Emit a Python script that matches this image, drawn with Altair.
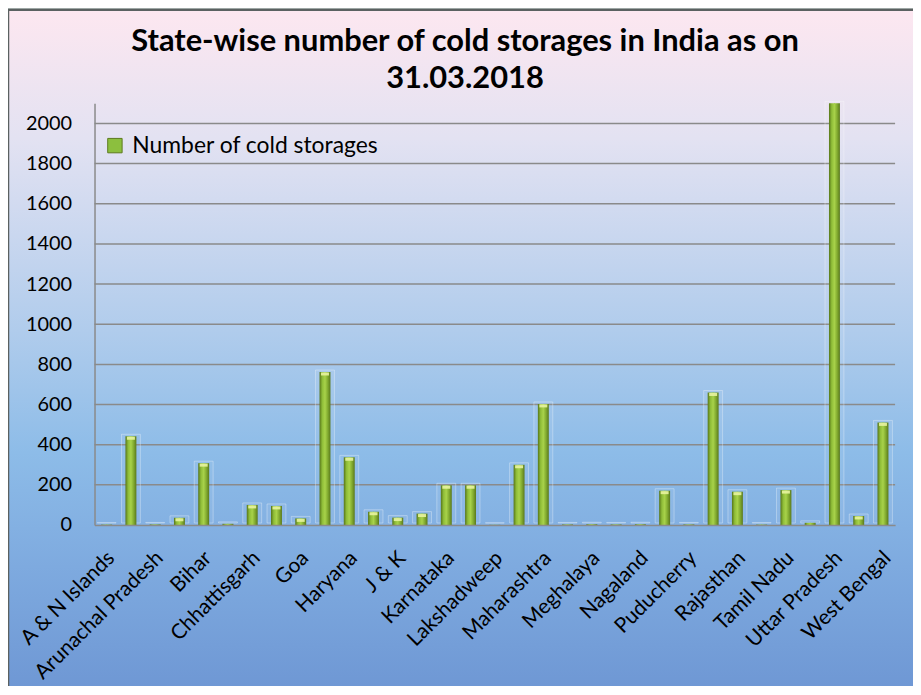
import altair as alt
import pandas as pd

TITLE = ["State-wise number of cold storages in India as on", "31.03.2018"]
SERIES = "Number of cold storages"

states = [
    "A & N Islands", "Andhra Pradesh", "Arunachal Pradesh", "Assam", "Bihar",
    "Chandigarh", "Chhattisgarh", "Delhi", "Goa", "Gujarat", "Haryana",
    "Himachal Pradesh", "J & K", "Jharkhand", "Karnataka", "Kerala",
    "Lakshadweep", "Madhya Pradesh", "Maharashtra", "Manipur", "Meghalaya",
    "Mizoram", "Nagaland", "Odisha", "Puducherry", "Punjab", "Rajasthan",
    "Sikkim", "Tamil Nadu", "Tripura", "Uttar Pradesh", "Uttarakhand",
    "West Bengal",
]
counts = [
    2, 442, 3, 36, 308, 6, 100, 95, 33, 762, 337,
    66, 37, 57, 198, 198, 1, 300, 603, 3, 4,
    3, 4, 171, 3, 660, 166, 2, 174, 11, 2100, 45,
    511,
]
shown_labels = states[::2]
y_ticks = [0, 200, 400, 600, 800, 1000, 1200, 1400, 1600, 1800, 2000]

df = pd.DataFrame({"state": states, "count": counts, "series": [SERIES] * len(states)})
grid_df = pd.DataFrame({"v": y_ticks[1:]})

W, H = 805, 424
FONT = "Lato"

xenc = alt.X("state:N", sort=states,
             scale=alt.Scale(paddingInner=0, paddingOuter=0),
             axis=alt.Axis(values=shown_labels, labelAngle=-45, labelFontSize=21,
                           labelFont=FONT, labelColor="#000000", labelPadding=22,
                           labelOffset=-3,
                           ticks=False, domainColor="#8a8a8a", domainWidth=1.5,
                           title=None, zindex=1, labelOverlap=False))
yscale = alt.Scale(domain=[0, 2100], nice=False)
yenc = alt.Y("count:Q", scale=yscale,
             axis=alt.Axis(values=y_ticks, grid=False, ticks=False, labelFontSize=20,
                           labelFont=FONT, labelColor="#000000", labelPadding=23,
                           format="d",
                           domainColor="#8a8a8a", domainWidth=1.5, title=None, zindex=1))

bg = alt.Chart(alt.Data(values=[{"k": 1}])).mark_rect(
    clip=False,
    stroke="#5b6161", strokeWidth=2.5,
    color=alt.Gradient(
        gradient="linear", x1=0, x2=0, y1=0, y2=1,
        stops=[
            alt.GradientStop(offset=0.0, color="#fde7f0"),
            alt.GradientStop(offset=0.18, color="#e3e2f2"),
            alt.GradientStop(offset=0.45, color="#b0ccec"),
            alt.GradientStop(offset=0.62, color="#8dbce8"),
            alt.GradientStop(offset=0.78, color="#7eaadf"),
            alt.GradientStop(offset=1.0, color="#6a92d1"),
        ],
    ),
).encode(
    x=alt.value(-87), x2=alt.value(W + 60),
    y=alt.value(-94), y2=alt.value(H + 200),
)

grid = alt.Chart(grid_df).mark_rule(color="#8a8a8a", strokeWidth=1.5).encode(
    y=alt.Y("v:Q", scale=yscale)
)

halo = alt.Chart(df).mark_bar(
    size=19, fill="#ffffff", fillOpacity=0.06, stroke="#ffffff", strokeOpacity=0.32,
    strokeWidth=1, yOffset=-2,
).encode(x=xenc, y=yenc)

legend_layer = alt.Chart(df).mark_bar(size=1).encode(
    x=xenc, y=yenc,
    color=alt.Color("series:N", scale=alt.Scale(range=["#8cbf3e"]),
                    legend=alt.Legend(title=None, orient="none", legendX=9, legendY=31,
                                      symbolType="square", symbolSize=210,
                                      symbolStrokeColor="#5d7a1e", symbolStrokeWidth=1,
                                      labelFontSize=23, labelFont=FONT, labelLimit=500,
                                      labelColor="#000000", labelOffset=6)),
)

bars = alt.Chart(df).mark_bar(
    size=11,
    color=alt.Gradient(
        gradient="linear", x1=0, x2=1, y1=0, y2=0,
        stops=[
            alt.GradientStop(offset=0.0, color="#56751a"),
            alt.GradientStop(offset=0.25, color="#8fbd38"),
            alt.GradientStop(offset=0.5, color="#a8d24a"),
            alt.GradientStop(offset=0.75, color="#82ab30"),
            alt.GradientStop(offset=1.0, color="#5a781c"),
        ],
    ),
).encode(x=xenc, y=yenc)

caps = alt.Chart(df).transform_filter(
    (alt.datum.count >= 20) & (alt.datum.count < 2100)
).mark_tick(
    size=8, thickness=3, color="#e8f3a0", yOffset=2, opacity=0.9
).encode(x=xenc, y=yenc)

chart = alt.layer(bg, grid, halo, legend_layer, bars, caps).properties(
    width=W, height=H,
    title=alt.TitleParams(TITLE, fontSize=31, font=FONT, fontWeight="bold",
                          color="#000000", lineHeight=37, offset=0, dy=87, dx=-30,
                          anchor="middle"),
    autosize=alt.AutoSizeParams(type="none"),
    padding={"left": 87, "top": 94, "right": 18, "bottom": 160},
    background="#e3eeea",
).configure_view(stroke=None)

chart.save("out.html", embed_options={"renderer": "svg", "actions": False})
